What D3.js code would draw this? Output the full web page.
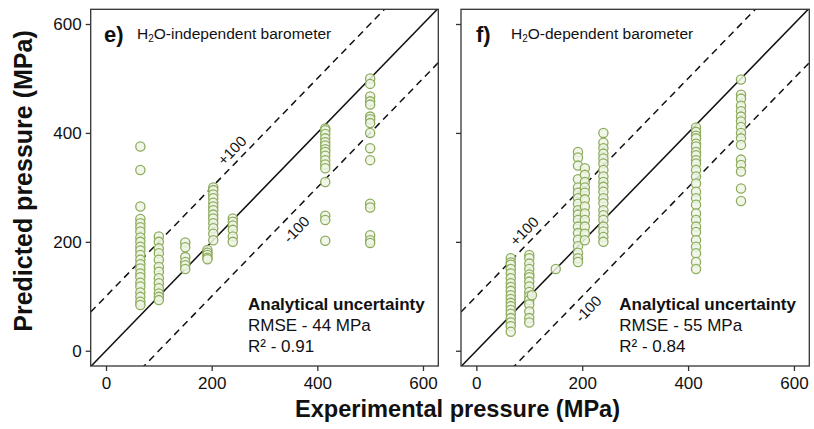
<!DOCTYPE html>
<html><head><meta charset="utf-8">
<script src="https://cdn.jsdelivr.net/npm/d3@7"></script>
<style>
body{margin:0;background:#fff;}
svg text{font-family:"Liberation Sans",Arial,sans-serif;}
</style></head>
<body><svg id="c" width="814" height="429"></svg>
<script>
// ---- data ----
const tickValues = [0, 200, 400, 600];
const panelLabels = ["e)", "f)"];
const panelTitles = [["H", "2", "O-independent barometer"], ["H", "2", "O-dependent barometer"]];
const statHeader = "Analytical uncertainty";
const rmseTexts = ["RMSE - 44 MPa", "RMSE - 55 MPa"];
const r2Texts = ["R² - 0.91", "R² - 0.84"];
const offsetLines = [0, 100, -100];
const offsetLabels = ["+100", "-100"];

// panel e: H2O-independent
const eX = [65, 100, 150, 192, 203, 240, 415, 500];
const eY = [
  [375, 332, 265, 242, 234, 227, 219, 208, 200, 191, 184, 176, 167, 159, 151, 142, 135, 125, 118, 107, 99, 90, 84],
  [210, 200, 188, 179, 167, 154, 145, 133, 124, 115, 105, 99, 93],
  [199, 190, 172, 163, 157, 150],
  [185, 180, 176, 171, 168],
  [300, 295, 287, 280, 272, 265, 258, 250, 243, 234, 225, 215, 203],
  [243, 237, 230, 222, 210, 200],
  [408, 405, 398, 390, 383, 377, 370, 365, 358, 350, 342, 335, 310, 248, 240, 202],
  [500, 490, 467, 458, 452, 430, 425, 418, 400, 372, 350, 270, 263, 212, 203, 198]
];
// panel f: H2O-dependent
const fX = [65, 100, 105, 150, 192, 205, 240, 415, 500];
const fY = [
  [170, 162, 158, 150, 142, 133, 124, 117, 110, 102, 95, 88, 82, 75, 68, 60, 52, 45, 35],
  [176, 170, 160, 150, 140, 135, 127, 118, 108, 100, 93, 85, 72, 60, 52],
  [102],
  [150],
  [365, 355, 340, 315, 300, 290, 280, 270, 258, 250, 240, 228, 216, 204, 192, 180, 170, 163],
  [335, 323, 310, 300, 290, 278, 265, 252, 240, 228, 215, 203],
  [400, 382, 372, 362, 353, 344, 332, 320, 310, 301, 292, 280, 271, 258, 249, 240, 228, 219, 209, 200],
  [410, 402, 395, 390, 380, 375, 365, 359, 350, 344, 332, 320, 307, 292, 280, 268, 252, 240, 228, 218, 203, 191, 179, 163, 150],
  [498, 470, 463, 450, 440, 430, 421, 411, 400, 390, 378, 351, 341, 329, 298, 275]
];
// label anchors (data coords) for +100 / -100
const eLabelPos = [[238, 368], [360, 223]];
const fLabelPos = [[90, 220], [211, 77]];

// ---- layout ----
const svg = d3.select("#c");
const domainX = [-29, 629], domainY = [-28, 627];
const plotTop = 9.3, plotBottom = 366;
const panels = [
  {left: 90.7, right: 438.3, xs: eX, ys: eY, lab: eLabelPos, labX: 104, titleX: 137, statX: 248, yLabels: true},
  {left: 461, right: 809.3, xs: fX, ys: fY, lab: fLabelPos, labX: 476, titleX: 511, statX: 619.3, yLabels: false}
];
const green = "#8dac5e", fillG = "#eef5e4";

panels.forEach((p, i) => {
  const x = d3.scaleLinear().domain(domainX).range([p.left, p.right]);
  const y = d3.scaleLinear().domain(domainY).range([plotBottom, plotTop]);
  const g = svg.append("g");
  const cid = "clip" + i;
  svg.append("clipPath").attr("id", cid).append("rect")
    .attr("x", p.left).attr("y", plotTop).attr("width", p.right - p.left).attr("height", plotBottom - plotTop);

  // lines
  const lg = g.append("g").attr("clip-path", `url(#${cid})`);
  offsetLines.forEach(o => {
    lg.append("line")
      .attr("x1", x(domainX[0])).attr("y1", y(domainX[0] + o))
      .attr("x2", x(domainX[1])).attr("y2", y(domainX[1] + o))
      .attr("stroke", "#111").attr("stroke-width", 1.5)
      .attr("stroke-dasharray", o === 0 ? null : "7,5");
  });

  // points
  const pts = [];
  p.xs.forEach((xv, k) => p.ys[k].forEach(yv => pts.push([xv, yv])));
  lg.selectAll("circle").data(pts).enter().append("circle")
    .attr("cx", d => x(d[0])).attr("cy", d => y(d[1])).attr("r", 4.6)
    .attr("fill", fillG).attr("fill-opacity", 0.85)
    .attr("stroke", green).attr("stroke-width", 1.3);

  // axes
  const ax = g.append("g").attr("transform", `translate(0,${plotBottom})`)
    .call(d3.axisBottom(x).tickValues(tickValues).tickSize(5).tickPadding(6));
  const ay = g.append("g").attr("transform", `translate(${p.left},0)`)
    .call(d3.axisLeft(y).tickValues(tickValues).tickSize(5).tickPadding(4)
      .tickFormat(p.yLabels ? d3.format("d") : () => ""));
  [ax, ay].forEach(a => {
    a.select(".domain").remove();
    a.selectAll("line").attr("stroke", "#333").attr("stroke-width", 1.3);
    a.selectAll("text").attr("font-size", 17).attr("fill", "#111")
      .style("font-family", '"Liberation Sans",Arial,sans-serif');
  });
  ax.selectAll("text").attr("dy", "0.71em");

  // frame
  g.append("rect").attr("x", p.left).attr("y", plotTop)
    .attr("width", p.right - p.left).attr("height", plotBottom - plotTop)
    .attr("fill", "none").attr("stroke", "#333").attr("stroke-width", 1.3);

  // offset labels
  const ang = Math.atan2(y(0) - y(100), x(100) - x(0)) * 180 / Math.PI;
  p.lab.forEach((pos, k) => {
    g.append("text").text(offsetLabels[k])
      .attr("transform", `translate(${x(pos[0])},${y(pos[1])}) rotate(${-ang})`)
      .attr("text-anchor", "middle").attr("dominant-baseline", "central")
      .attr("font-size", 15).attr("fill", "#111");
  });

  // panel label + title
  g.append("text").text(panelLabels[i]).attr("x", p.labX).attr("y", 42)
    .attr("font-size", 22).attr("font-weight", "bold").attr("fill", "#111");
  const t = g.append("text").attr("x", p.titleX).attr("y", 39).attr("font-size", 15.5).attr("fill", "#111");
  t.append("tspan").text(panelTitles[i][0]);
  t.append("tspan").text(panelTitles[i][1]).attr("font-size", 10).attr("dy", 3);
  t.append("tspan").text(panelTitles[i][2]).attr("dy", -3);

  // stats
  g.append("text").text(statHeader).attr("x", p.statX).attr("y", 310)
    .attr("font-size", 17).attr("font-weight", "bold").attr("fill", "#111");
  g.append("text").text(rmseTexts[i]).attr("x", p.statX).attr("y", 331)
    .attr("font-size", 17).attr("fill", "#111");
  g.append("text").text(r2Texts[i]).attr("x", p.statX).attr("y", 352)
    .attr("font-size", 17).attr("fill", "#111");
});

// axis titles
svg.append("text").text("Predicted pressure (MPa)")
  .attr("transform", "translate(31.5,181) rotate(-90)").attr("text-anchor", "middle")
  .attr("font-size", 25).attr("font-weight", "bold").attr("fill", "#111");
svg.append("text").text("Experimental pressure (MPa)")
  .attr("x", 457.5).attr("y", 417).attr("text-anchor", "middle")
  .attr("font-size", 23.6).attr("font-weight", "bold").attr("fill", "#111");
</script></body></html>
